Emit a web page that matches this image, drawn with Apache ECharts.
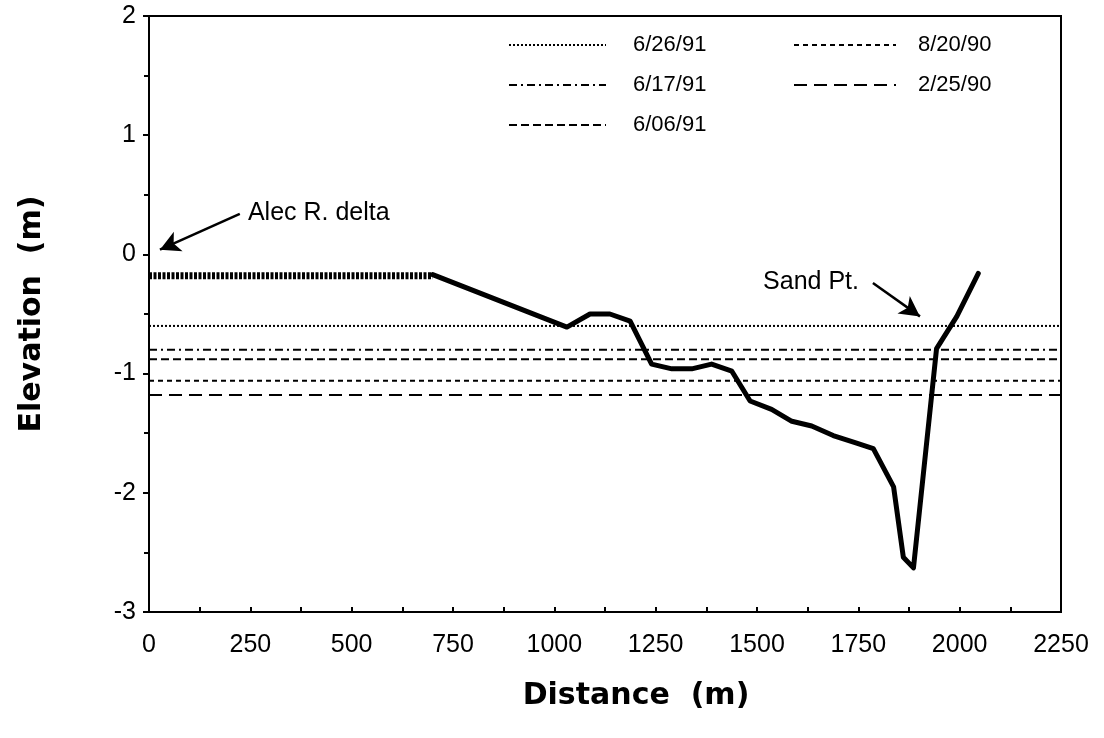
<!DOCTYPE html>
<html>
<head>
<meta charset="utf-8">
<script src="https://cdn.jsdelivr.net/npm/echarts@6/dist/echarts.min.js"></script>
<style>
html,body{margin:0;padding:0;background:#fff;}
#chart{width:1104px;height:738px;}
</style>
</head>
<body>
<div id="chart"></div>
<script>
// ---- data ----
const xTicks = [0, 250, 500, 750, 1000, 1250, 1500, 1750, 2000, 2250];
const yTicks = [-3, -2, -1, 0, 1, 2];

const deltaDist = [0, 700];
const deltaElev = [-0.18, -0.18];

const profileDist = [700, 1031, 1088, 1137, 1187, 1240, 1290, 1339, 1388, 1438, 1483, 1536, 1586, 1635, 1688, 1742, 1787, 1837, 1861, 1886, 1943, 1993, 2046];
const profileElev = [-0.17, -0.61, -0.50, -0.50, -0.56, -0.92, -0.96, -0.96, -0.92, -0.98, -1.23, -1.30, -1.40, -1.44, -1.52, -1.58, -1.63, -1.95, -2.54, -2.63, -0.79, -0.52, -0.16];

const levelDates = ['6/26/91', '6/17/91', '6/06/91', '8/20/90', '2/25/90'];
const levelElev = [-0.60, -0.80, -0.88, -1.06, -1.18];
const levelSpan = [0, 2250];

const annotText = ['Alec R. delta', 'Sand Pt.'];
const annotPos = [[244, 0.35], [1515, -0.23]];
const arrowFrom = [[224, 0.34], [1786, -0.24]];
const arrowTo = [[27, 0.04], [1902, -0.52]];

// ---- styles ----
const FONT = 'Liberation Sans';
const TITLE_FONT = 'DejaVu Sans';
const dashStyles = [[2, 2], [8, 4, 2, 4], [8, 4], [5, 4], [13, 7]];

const levelSeries = levelDates.map((d, i) => ({
  name: d,
  type: 'line',
  symbol: 'none',
  silent: true,
  data: levelSpan.map(x => [x, levelElev[i]]),
  lineStyle: { color: '#000', width: 2, type: dashStyles[i] },
  itemStyle: { color: '#000' }
}));

const legendText = pad => ({ fontFamily: FONT, fontSize: 22, color: '#000', padding: [0, 0, 0, pad] });

const option = {
  animation: false,
  backgroundColor: '#fff',
  textStyle: { fontFamily: FONT, color: '#000' },
  grid: { left: 149, right: 43, top: 16, bottom: 126, show: true, borderColor: '#000', borderWidth: 2, backgroundColor: 'transparent' },
  legend: [
    {
      data: levelDates.slice(0, 3),
      orient: 'vertical', left: 503, top: 29,
      itemWidth: 97, itemHeight: 14, itemGap: 18,
      itemStyle: { opacity: 0 },
      textStyle: legendText(22),
      selectedMode: false
    },
    {
      data: levelDates.slice(3),
      orient: 'vertical', left: 788, top: 29,
      itemWidth: 102, itemHeight: 14, itemGap: 18,
      itemStyle: { opacity: 0 },
      textStyle: legendText(17),
      selectedMode: false
    }
  ],
  xAxis: {
    type: 'value', min: 0, max: 2250, interval: 250,
    name: 'Distance  (m)', nameLocation: 'middle', nameGap: 69,
    nameTextStyle: { fontFamily: TITLE_FONT, fontSize: 30, fontWeight: 'bold', color: '#000', padding: [0, 0, 0, 62] },
    axisLine: { show: true, onZero: false, lineStyle: { color: '#000', width: 2 } },
    axisTick: { show: true, inside: true, length: 5, lineStyle: { color: '#000', width: 2 } },
    minorTick: { show: true, splitNumber: 2, length: 5, lineStyle: { color: '#000', width: 2 } },
    splitLine: { show: false },
    axisLabel: { fontFamily: FONT, fontSize: 25, color: '#000', margin: 21, formatter: v => String(v) }
  },
  yAxis: {
    type: 'value', min: -3, max: 2, interval: 1,
    name: 'Elevation  (m)', nameLocation: 'middle', nameGap: 102, nameRotate: 90,
    nameTextStyle: { fontFamily: TITLE_FONT, fontSize: 30, fontWeight: 'bold', color: '#000' },
    axisLine: { show: true, onZero: false, lineStyle: { color: '#000', width: 2 } },
    axisTick: { show: true, inside: false, length: 6, lineStyle: { color: '#000', width: 2 } },
    minorTick: { show: true, splitNumber: 2, length: 5, lineStyle: { color: '#000', width: 2 } },
    splitLine: { show: false },
    axisLabel: { fontFamily: FONT, fontSize: 25, color: '#000', margin: 13, formatter: v => String(v) }
  },
  series: [
    ...levelSeries,
    {
      name: 'delta',
      type: 'line', symbol: 'none', silent: true,
      data: deltaDist.map((x, i) => [x, deltaElev[i]]),
      lineStyle: { color: '#000', width: 7, type: [3, 1.5] }
    },
    {
      name: 'profile',
      type: 'line', symbol: 'none', silent: true,
      data: profileDist.map((x, i) => [x, profileElev[i]]),
      lineStyle: { color: '#000', width: 5, join: 'round', cap: 'round' }
    },
    {
      name: 'annotations',
      type: 'scatter', symbolSize: 0, silent: true,
      itemStyle: { opacity: 1, color: '#000' },
      data: annotPos.map((p, i) => [p[0], p[1], annotText[i]]),
      label: {
        show: true, position: 'right', distance: 0,
        formatter: p => p.value[2],
        fontFamily: FONT, fontSize: 25, color: '#000', opacity: 1
      },
      markLine: {
        silent: true, symbol: ['none', 'arrow'], symbolSize: [16, 20],
        label: { show: false },
        lineStyle: { color: '#000', width: 2.5, type: 'solid', opacity: 1 },
        data: arrowFrom.map((f, i) => [{ coord: f }, { coord: arrowTo[i] }])
      }
    }
  ]
};

const chart = echarts.init(document.getElementById('chart'), null, { renderer: 'canvas' });
chart.setOption(option);
</script>
</body>
</html>
